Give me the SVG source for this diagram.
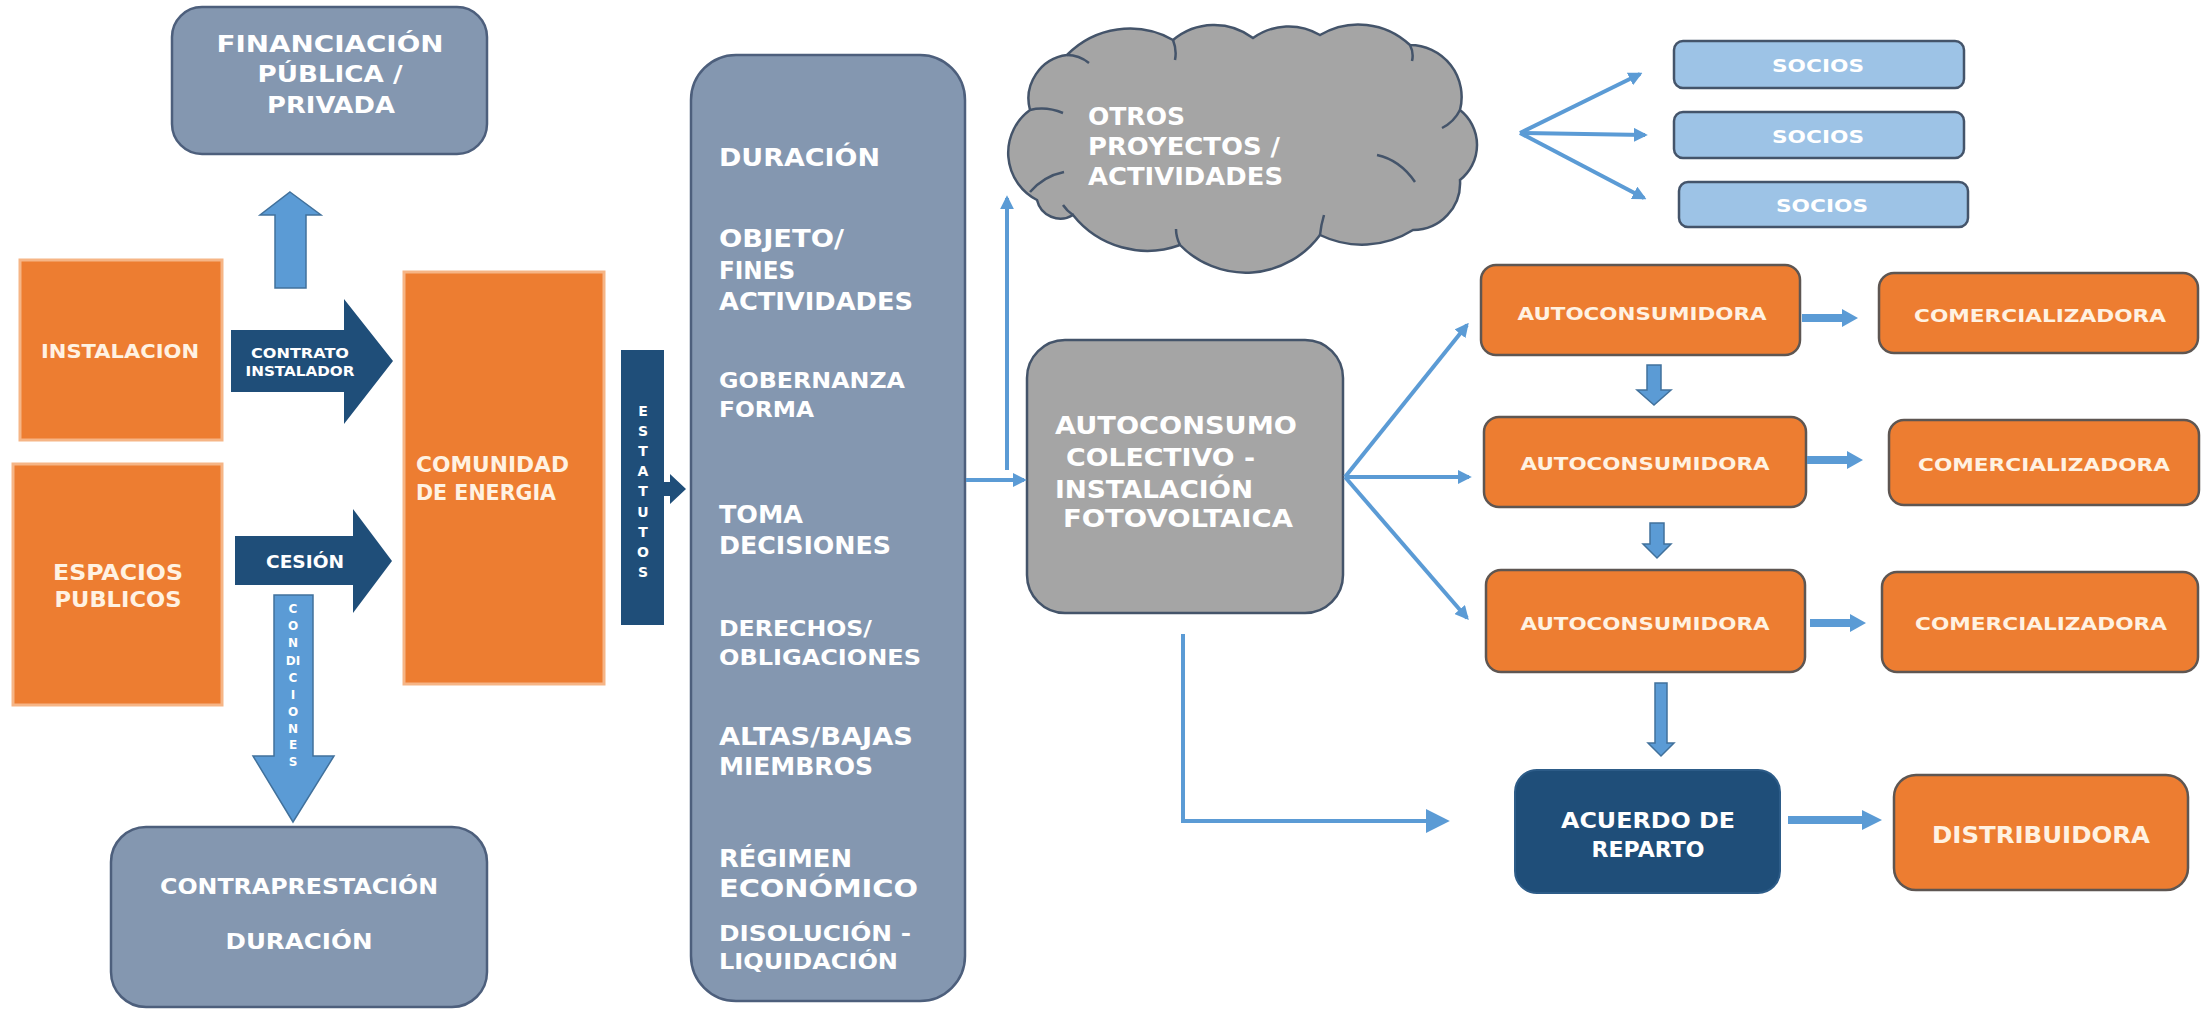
<svg xmlns="http://www.w3.org/2000/svg" width="2202" height="1011" viewBox="0 0 2202 1011">
<defs>
<marker id="ah" viewBox="0 0 10 10" refX="8" refY="5" markerWidth="14" markerHeight="14" markerUnits="userSpaceOnUse" orient="auto"><path d="M0,0 L10,5 L0,10 z" fill="#5B9BD5"/></marker>
<marker id="ahL" viewBox="0 0 10 10" refX="8" refY="5" markerWidth="24" markerHeight="24" markerUnits="userSpaceOnUse" orient="auto"><path d="M0,0 L10,5 L0,10 z" fill="#5B9BD5"/></marker>
</defs>
<style>
.t{font-family:"DejaVu Sans","Liberation Sans",sans-serif;font-weight:bold;fill:#FFFFFF}
.tc{font-family:"DejaVu Sans","Liberation Sans",sans-serif;font-weight:bold;fill:#FFF2E2}
.slate{fill:#8497B0;stroke:#4D5F7C;stroke-width:2.5}
.orgL{fill:#ED7D31;stroke:#F6B586;stroke-width:3}
.orgR{fill:#ED7D31;stroke:#5E5652;stroke-width:2.5}
.gray{fill:#A5A5A5;stroke:#44546A;stroke-width:2.5}
.navy{fill:#1F4E79}
.soc{fill:#9DC3E6;stroke:#44546A;stroke-width:2.5}
.lbA{fill:#5B9BD5;stroke:#41719C;stroke-width:1.5}
.lbF{fill:#5B9BD5}
.ln{fill:none;stroke:#5B9BD5;stroke-width:4}
.curl{fill:none;stroke:#44546A;stroke-width:2.5}
</style>
<rect width="2202" height="1011" fill="#FFFFFF"/>

<g id="financiacion">
<rect class="slate" x="172" y="7" width="315" height="147" rx="30"/>
<text class="t" font-size="23" x="330" y="52" text-anchor="middle" textLength="227" lengthAdjust="spacingAndGlyphs">FINANCIACIÓN</text>
<text class="t" font-size="23" x="330" y="82" text-anchor="middle" textLength="145" lengthAdjust="spacingAndGlyphs">PÚBLICA /</text>
<text class="t" font-size="23" x="331" y="113" text-anchor="middle" textLength="128" lengthAdjust="spacingAndGlyphs">PRIVADA</text>
</g>

<g id="arrow-up-financiacion">
<polygon class="lbA" points="290,192 321,215 306,215 306,288 275,288 275,215 260,215"/>
</g>

<g id="instalacion">
<rect class="orgL" x="20" y="260" width="202" height="180"/>
<text class="tc" font-size="19" x="120" y="358" text-anchor="middle" textLength="158" lengthAdjust="spacingAndGlyphs">INSTALACION</text>
</g>

<g id="contrato-instalador">
<polygon class="navy" points="231,330 344,330 344,299 393,361 344,424 344,392 231,392"/>
<text class="t" font-size="14" x="300" y="358" text-anchor="middle" textLength="98" lengthAdjust="spacingAndGlyphs">CONTRATO</text>
<text class="t" font-size="14" x="300" y="376" text-anchor="middle" textLength="109" lengthAdjust="spacingAndGlyphs">INSTALADOR</text>
</g>

<g id="comunidad">
<rect class="orgL" x="404" y="272" width="200" height="412"/>
<text class="tc" font-size="21" x="416" y="472" textLength="153" lengthAdjust="spacingAndGlyphs">COMUNIDAD</text>
<text class="tc" font-size="21" x="416" y="500" textLength="140" lengthAdjust="spacingAndGlyphs">DE ENERGIA</text>
</g>

<g id="estatutos">
<rect class="navy" x="621" y="350" width="43" height="275"/>
<polygon class="navy" points="663,482 670,482 670,474 686,489 670,504 670,496 663,496"/>
<g class="t" font-size="14" text-anchor="middle">
<text x="643" y="416">E</text>
<text x="643" y="436">S</text>
<text x="643" y="456">T</text>
<text x="643" y="476">A</text>
<text x="643" y="496">T</text>
<text x="643" y="517">U</text>
<text x="643" y="537">T</text>
<text x="643" y="557">O</text>
<text x="643" y="577">S</text>
</g>
</g>

<g id="espacios">
<rect class="orgL" x="13" y="464" width="209" height="241"/>
<text class="tc" font-size="21" x="118" y="580" text-anchor="middle" textLength="130" lengthAdjust="spacingAndGlyphs">ESPACIOS</text>
<text class="tc" font-size="21" x="118" y="607" text-anchor="middle" textLength="127" lengthAdjust="spacingAndGlyphs">PUBLICOS</text>
</g>

<g id="cesion">
<polygon class="navy" points="235,536 353,536 353,509 392,561 353,613 353,585 235,585"/>
<text class="t" font-size="17" x="305" y="568" text-anchor="middle" textLength="78" lengthAdjust="spacingAndGlyphs">CESIÓN</text>
</g>

<g id="condiciones">
<polygon class="lbA" points="274,595 313,595 313,756 334,756 293,822 253,756 274,756"/>
<g class="t" font-size="12" text-anchor="middle">
<text x="293" y="613">C</text>
<text x="293" y="630">O</text>
<text x="293" y="647">N</text>
<text x="293" y="665">DI</text>
<text x="293" y="682">C</text>
<text x="293" y="699">I</text>
<text x="293" y="716">O</text>
<text x="293" y="733">N</text>
<text x="293" y="749">E</text>
<text x="293" y="766">S</text>
</g>
</g>

<g id="contraprestacion">
<rect class="slate" x="111" y="827" width="376" height="180" rx="35"/>
<text class="t" font-size="22" x="299" y="894" text-anchor="middle" textLength="278" lengthAdjust="spacingAndGlyphs">CONTRAPRESTACIÓN</text>
<text class="t" font-size="22" x="299" y="949" text-anchor="middle" textLength="147" lengthAdjust="spacingAndGlyphs">DURACIÓN</text>
</g>

<g id="estatutos-contenido">
<rect class="slate" x="691" y="55" width="274" height="946" rx="45"/>
<text class="t" font-size="24" x="719" y="166" textLength="161" lengthAdjust="spacingAndGlyphs">DURACIÓN</text>
<text class="t" font-size="24" x="719" y="247" textLength="125" lengthAdjust="spacingAndGlyphs">OBJETO/</text>
<text class="t" font-size="24" x="719" y="279" textLength="76" lengthAdjust="spacingAndGlyphs">FINES</text>
<text class="t" font-size="24" x="719" y="310" textLength="194" lengthAdjust="spacingAndGlyphs">ACTIVIDADES</text>
<text class="t" font-size="22" x="719" y="388" textLength="186" lengthAdjust="spacingAndGlyphs">GOBERNANZA</text>
<text class="t" font-size="22" x="719" y="417" textLength="95" lengthAdjust="spacingAndGlyphs">FORMA</text>
<text class="t" font-size="24" x="719" y="523" textLength="84" lengthAdjust="spacingAndGlyphs">TOMA</text>
<text class="t" font-size="24" x="719" y="554" textLength="172" lengthAdjust="spacingAndGlyphs">DECISIONES</text>
<text class="t" font-size="22" x="719" y="636" textLength="153" lengthAdjust="spacingAndGlyphs">DERECHOS/</text>
<text class="t" font-size="22" x="719" y="665" textLength="202" lengthAdjust="spacingAndGlyphs">OBLIGACIONES</text>
<text class="t" font-size="24" x="719" y="745" textLength="194" lengthAdjust="spacingAndGlyphs">ALTAS/BAJAS</text>
<text class="t" font-size="24" x="719" y="775" textLength="154" lengthAdjust="spacingAndGlyphs">MIEMBROS</text>
<text class="t" font-size="24" x="719" y="867" textLength="133" lengthAdjust="spacingAndGlyphs">RÉGIMEN</text>
<text class="t" font-size="24" x="719" y="897" textLength="199" lengthAdjust="spacingAndGlyphs">ECONÓMICO</text>
<text class="t" font-size="21" x="719" y="941" textLength="192" lengthAdjust="spacingAndGlyphs">DISOLUCIÓN  -</text>
<text class="t" font-size="21" x="719" y="969" textLength="179" lengthAdjust="spacingAndGlyphs">LIQUIDACIÓN</text>
</g>

<g id="otros-proyectos">
<path class="gray" d="M1037,200 A53,53 0 0 1 1030,110 A44,44 0 0 1 1067,55 A88,88 0 0 1 1173,40 A64,64 0 0 1 1253,38 A61,61 0 0 1 1320,35 A75,75 0 0 1 1410,45 A52,52 0 0 1 1460,110 A44.5,44.5 0 0 1 1460,180 A47,47 0 0 1 1413,230 A96,96 0 0 1 1320,235 A92,92 0 0 1 1180,245 A95,95 0 0 1 1073,215 A24,24 0 0 1 1037,200 Z"/>
<path class="curl" d="M1030,110 q16,-4 33,3 M1067,55 q12,0 22,8 M1173,40 q4,10 2,20 M1410,45 q4,8 2,16 M1460,110 q-6,12 -18,18 M1415,182 q-15,-22 -38,-27 M1320,235 q1,-10 4,-20 M1180,245 q-4,-8 -4,-16 M1073,215 q-6,-4 -10,-10 M1030,192 q14,-16 34,-20"/>
<text class="t" font-size="24" x="1088" y="125" textLength="97" lengthAdjust="spacingAndGlyphs">OTROS</text>
<text class="t" font-size="24" x="1088" y="155" textLength="192" lengthAdjust="spacingAndGlyphs">PROYECTOS /</text>
<text class="t" font-size="24" x="1088" y="185" textLength="195" lengthAdjust="spacingAndGlyphs">ACTIVIDADES</text>
</g>

<g id="autoconsumo">
<rect class="gray" x="1027" y="340" width="316" height="273" rx="38"/>
<text class="t" font-size="25" x="1055" y="434" textLength="242" lengthAdjust="spacingAndGlyphs">AUTOCONSUMO</text>
<text class="t" font-size="25" x="1066" y="466" textLength="189" lengthAdjust="spacingAndGlyphs">COLECTIVO -</text>
<text class="t" font-size="25" x="1055" y="498" textLength="198" lengthAdjust="spacingAndGlyphs">INSTALACIÓN</text>
<text class="t" font-size="25" x="1063" y="527" textLength="230" lengthAdjust="spacingAndGlyphs">FOTOVOLTAICA</text>
</g>

<g id="socios-1">
<rect class="soc" x="1674" y="41" width="290" height="47" rx="9"/>
<text class="t" font-size="18" x="1818" y="72" text-anchor="middle" textLength="92" lengthAdjust="spacingAndGlyphs">SOCIOS</text>
</g>
<g id="socios-2">
<rect class="soc" x="1674" y="112" width="290" height="46" rx="9"/>
<text class="t" font-size="18" x="1818" y="143" text-anchor="middle" textLength="92" lengthAdjust="spacingAndGlyphs">SOCIOS</text>
</g>
<g id="socios-3">
<rect class="soc" x="1679" y="182" width="289" height="45" rx="9"/>
<text class="t" font-size="18" x="1822" y="212" text-anchor="middle" textLength="92" lengthAdjust="spacingAndGlyphs">SOCIOS</text>
</g>

<g id="autoconsumidora-1">
<rect class="orgR" x="1481" y="265" width="319" height="90" rx="15"/>
<text class="tc" font-size="18.5" x="1642" y="320" text-anchor="middle" textLength="249" lengthAdjust="spacingAndGlyphs">AUTOCONSUMIDORA</text>
</g>
<g id="comercializadora-1">
<rect class="orgR" x="1879" y="273" width="319" height="80" rx="15"/>
<text class="tc" font-size="18.5" x="2040" y="322" text-anchor="middle" textLength="252" lengthAdjust="spacingAndGlyphs">COMERCIALIZADORA</text>
</g>
<g id="autoconsumidora-2">
<rect class="orgR" x="1484" y="417" width="322" height="90" rx="15"/>
<text class="tc" font-size="18.5" x="1645" y="470" text-anchor="middle" textLength="249" lengthAdjust="spacingAndGlyphs">AUTOCONSUMIDORA</text>
</g>
<g id="comercializadora-2">
<rect class="orgR" x="1889" y="420" width="310" height="85" rx="15"/>
<text class="tc" font-size="18.5" x="2044" y="471" text-anchor="middle" textLength="252" lengthAdjust="spacingAndGlyphs">COMERCIALIZADORA</text>
</g>
<g id="autoconsumidora-3">
<rect class="orgR" x="1486" y="570" width="319" height="102" rx="15"/>
<text class="tc" font-size="18.5" x="1645" y="630" text-anchor="middle" textLength="249" lengthAdjust="spacingAndGlyphs">AUTOCONSUMIDORA</text>
</g>
<g id="comercializadora-3">
<rect class="orgR" x="1882" y="572" width="316" height="100" rx="15"/>
<text class="tc" font-size="18.5" x="2041" y="630" text-anchor="middle" textLength="252" lengthAdjust="spacingAndGlyphs">COMERCIALIZADORA</text>
</g>

<g id="acuerdo-reparto">
<rect class="navy" x="1515" y="770" width="265" height="123" rx="22" stroke="#2D5C88" stroke-width="2"/>
<text class="t" font-size="20.5" x="1648" y="828" text-anchor="middle" textLength="174" lengthAdjust="spacingAndGlyphs">ACUERDO DE</text>
<text class="t" font-size="20.5" x="1648" y="857" text-anchor="middle" textLength="113" lengthAdjust="spacingAndGlyphs">REPARTO</text>
</g>

<g id="distribuidora">
<rect class="orgR" x="1894" y="775" width="294" height="115" rx="22"/>
<text class="tc" font-size="23" x="2041" y="843" text-anchor="middle" textLength="218" lengthAdjust="spacingAndGlyphs">DISTRIBUIDORA</text>
</g>

<g id="connectors">
<line class="ln" x1="966" y1="480" x2="1024" y2="480" marker-end="url(#ah)"/>
<line class="ln" x1="1007" y1="470" x2="1007" y2="198" marker-end="url(#ah)"/>
<line class="ln" x1="1520" y1="133" x2="1640" y2="74" marker-end="url(#ah)"/>
<line class="ln" x1="1520" y1="133" x2="1645" y2="135" marker-end="url(#ah)"/>
<line class="ln" x1="1520" y1="133" x2="1644" y2="198" marker-end="url(#ah)"/>
<line class="ln" stroke-width="5" x1="1345" y1="477" x2="1467" y2="325" marker-end="url(#ah)"/>
<line class="ln" stroke-width="5" x1="1345" y1="477" x2="1469" y2="477" marker-end="url(#ah)"/>
<line class="ln" stroke-width="5" x1="1345" y1="477" x2="1467" y2="618" marker-end="url(#ah)"/>
<path class="ln" stroke-width="7" d="M1183,634 L1183,821 L1445,821" marker-end="url(#ahL)"/>
<polygon class="lbF" points="1802,314 1842,314 1842,309 1858,318 1842,327 1842,322 1802,322"/>
<polygon class="lbF" points="1807,456 1847,456 1847,451 1863,460 1847,469 1847,464 1807,464"/>
<polygon class="lbF" points="1810,619 1850,619 1850,614 1866,623 1850,632 1850,627 1810,627"/>
<polygon class="lbF" points="1788,816 1862,816 1862,810 1882,820 1862,830 1862,824 1788,824"/>
<polygon class="lbA" points="1647,365 1661,365 1661,390 1671,390 1654,405 1637,390 1647,390"/>
<polygon class="lbA" points="1650,523 1664,523 1664,544 1671,544 1657,558 1643,544 1650,544"/>
<polygon class="lbA" points="1655,683 1667,683 1667,743 1674,743 1661,756 1648,743 1655,743"/>
</g>
</svg>
